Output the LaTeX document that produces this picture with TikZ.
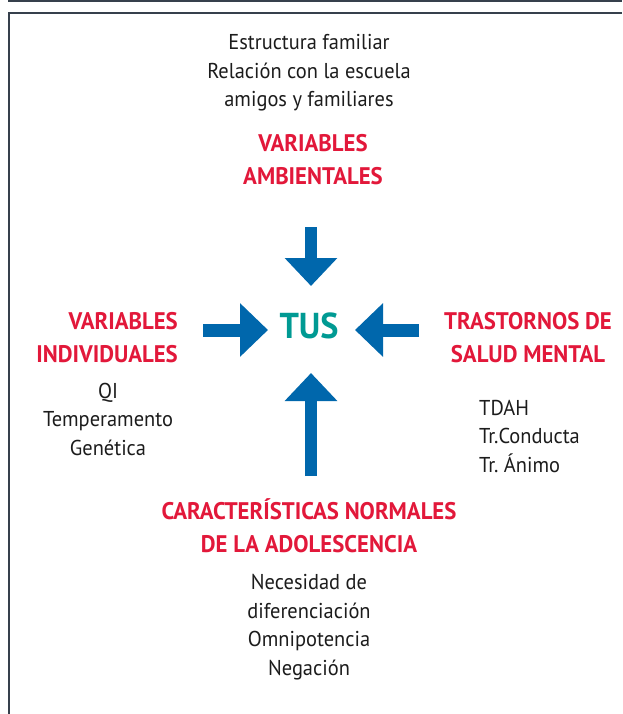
\documentclass[tikz,border=0pt]{standalone}
\usepackage{fontspec}
\setmainfont{PT Sans}[FakeStretch=0.95]
\usetikzlibrary{arrows.meta}
\frenchspacing
\definecolor{hred}{HTML}{E2183A}
\definecolor{tusteal}{HTML}{009A93}
\definecolor{arrblue}{HTML}{0067AC}
\definecolor{txt}{HTML}{1C1C1C}
\definecolor{frame}{HTML}{36404C}
\tikzset{
  body/.style={text=txt, align=center, inner sep=0pt, font=\fontsize{21.5}{28.5}\selectfont},
  bodyleft/.style={body, align=left},
  head/.style={text=hred, align=center, inner sep=0pt, font=\fontsize{24}{33}\selectfont\bfseries},
  headright/.style={head, align=right},
  vblock/.style={arrblue, line width=12.5pt, -{Triangle[width=51pt,length=28pt]}},
  hblock/.style={arrblue, line width=13pt, -{Triangle[width=52pt,length=28pt]}},
  framel/.style={frame, line width=2pt}
}
\begin{document}
\begin{tikzpicture}[x=1pt,y=-1pt]
\useasboundingbox (0,0) rectangle (622,714);
% frame
\draw[framel] (8,1) -- (622,1);
\draw[framel] (622,13) -- (9,13) -- (9,714);
% centre
\node[text=tusteal, font=\fontsize{36}{40}\selectfont\bfseries, inner sep=0pt] (tus) at (309,326) {TUS};
% arrows
\coordinate (ts) at (311,227); \coordinate (tt) at (311,286);
\coordinate (bs) at (311,476); \coordinate (bt) at (311,373);
\coordinate (ls) at (203,330); \coordinate (lt) at (268,330);
\coordinate (rs) at (419,330); \coordinate (rt) at (355,330);
\draw[vblock] (ts) -- (tt);
\draw[vblock] (bs) -- (bt);
\draw[hblock] (ls) -- (lt);
\draw[hblock] (rs) -- (rt);
% top
\node[body, anchor=base] (amb) at (309,107) {Estructura familiar\\Relación con la escuela\\amigos y familiares};
\node[head, anchor=base] (ambh) at (313,185) {VARIABLES\\AMBIENTALES};
% left
\node[headright, anchor=base east] (indh) at (178,362) {VARIABLES\\INDIVIDUALES};
\node[body, anchor=base] (ind) at (108,455) {QI\\Temperamento\\Genética};
% right
\node[head, anchor=base] (salh) at (528,362) {TRASTORNOS DE\\SALUD MENTAL};
\node[bodyleft, anchor=base west] (sal) at (479,472) {TDAH\\Tr.Conducta\\Tr. Ánimo};
% bottom
\node[head, anchor=base] (adoh) at (309,552) {CARACTERÍSTICAS NORMALES\\DE LA ADOLESCENCIA};
\node[body, anchor=base] (ado) at (309,675) {Necesidad de\\diferenciación\\Omnipotencia\\Negación};
\end{tikzpicture}
\end{document}
